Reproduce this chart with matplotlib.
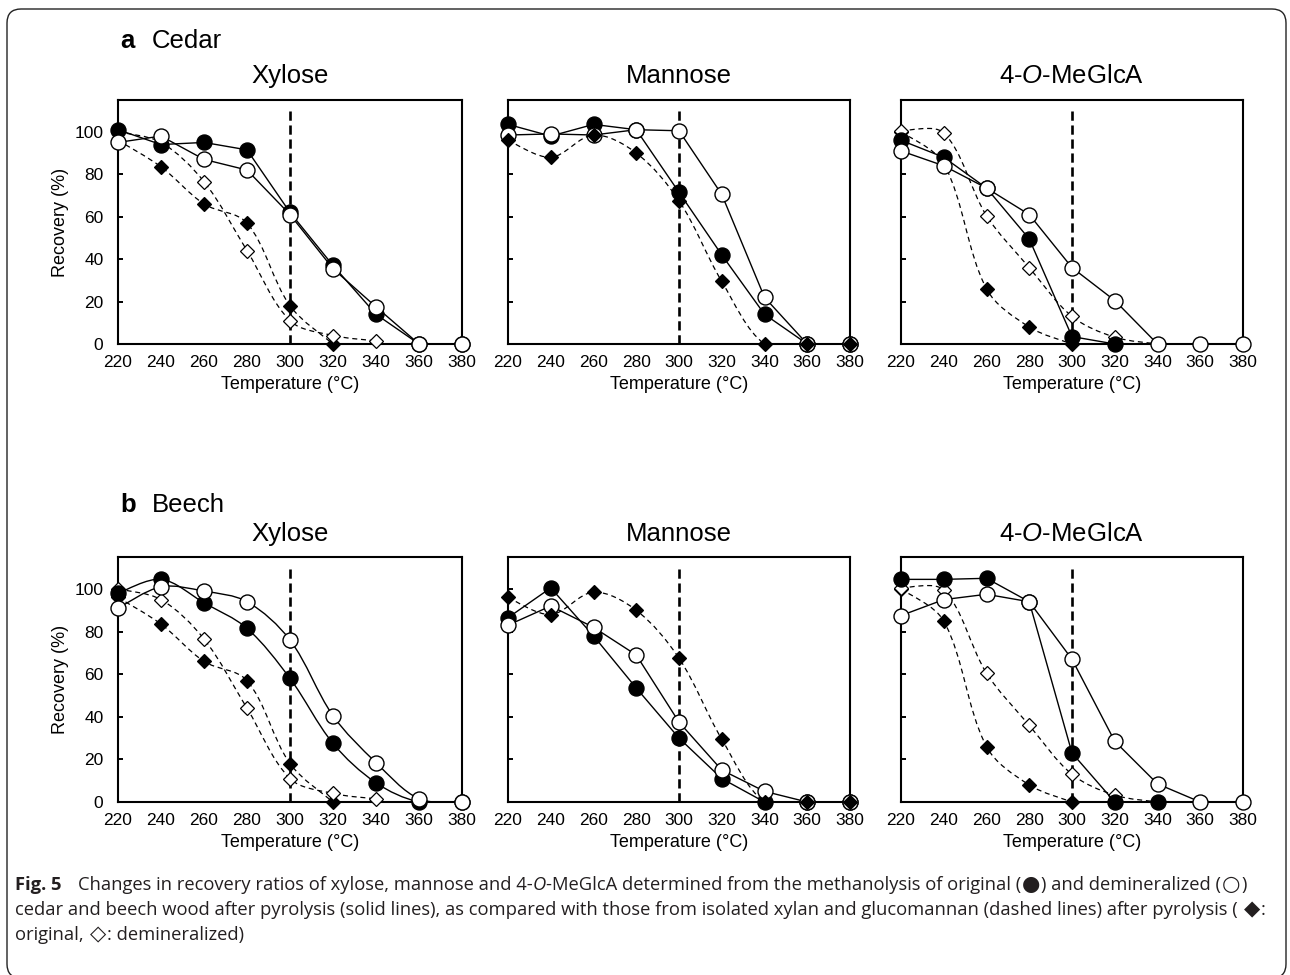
import numpy as np
import matplotlib
matplotlib.use('Agg')
import matplotlib.pyplot as plt
from matplotlib.path import Path
from matplotlib.patches import PathPatch, FancyBboxPatch
from matplotlib.transforms import IdentityTransform

plt.rcParams['font.family'] = ['Liberation Sans', 'DejaVu Sans']
plt.rcParams['mathtext.fontset'] = 'custom'
plt.rcParams['mathtext.rm'] = 'Liberation Sans'
plt.rcParams['mathtext.it'] = 'Liberation Sans:italic'

# temperatures (deg C)
temps = [220, 240, 260, 280, 300, 320, 340, 360, 380]

# cedar wood (solid lines)
cedar_xyl_orig = [101, 94, 95, 91.5, 62, 37, 14, 0, 0]
cedar_xyl_demin = [95, 98, 87, 82, 61, 35.5, 17.5, 0, 0]
cedar_man_orig = [103.5, 98, 103.5, 101, 71.5, 42, 14, 0, 0]
cedar_man_demin = [98.5, 99, 98.5, 101, 100.5, 70.5, 22, 0, 0]
cedar_mga_orig = [96, 88, 73.5, 49.5, 3.5, 0]
cedar_mga_demin = [91, 84, 73.5, 61, 36, 20.5, 0, 0, 0]

# beech wood (solid lines)
beech_xyl_orig = [98, 104.5, 93.5, 81.5, 58, 27.5, 9, 0, 0]
beech_xyl_demin = [91, 101, 99, 94, 76, 40.5, 18.5, 1.5, 0]
beech_man_orig = [86.5, 100.5, 78, 53.5, 30, 11, 0, 0, 0]
beech_man_demin = [83, 92, 82, 69, 37.5, 15, 5, 0, 0]
beech_mga_orig = [104.5, 104.5, 105, 94, 23, 0, 0]
beech_mga_demin = [87.5, 95, 97.5, 94, 67, 28.5, 8.5, 0, 0]

# isolated xylan / glucomannan (dashed lines)
xylan_xyl_orig = [96, 83.5, 66, 57, 18, 0]
xylan_xyl_demin = [100, 95, 76.5, 44, 11, 4, 1.5]
gm_man_orig = [96, 88, 98.5, 90, 67.5, 29.5, 0, 0, 0]
xylan_mga_orig = [100, 85, 26, 8, 0]
xylan_mga_demin = [100.5, 99.5, 60.5, 36, 13, 3.2, 0]

vline_x = 300
vline_top = 111
yticks = [0, 20, 40, 60, 80, 100]

titles = ['Xylose', 'Mannose', '4-$\\mathit{O}$-MeGlcA']
row_labels = [('a', 'Cedar'), ('b', 'Beech')]

W, H = 1290, 975
fig = plt.figure(figsize=(W / 100, H / 100), dpi=100)

col_px = [(118, 462), (508, 850), (901, 1243)]
row_px = [(100, 344), (557, 802)]


def smooth_path(ax, x, y):
    # spreadsheet-style smoothed line, built in pixel space
    q = ax.transData.transform(np.column_stack([x, y]).astype(float))
    n = len(q)
    cin = [None] * n
    cout = [None] * n
    cout[0] = q[0] + (q[1] - q[0]) / 6
    cin[-1] = q[-1] - (q[-1] - q[-2]) / 6
    for i in range(1, n - 1):
        t = q[i + 1] - q[i - 1]
        d0 = np.hypot(*(q[i] - q[i - 1]))
        d1 = np.hypot(*(q[i + 1] - q[i]))
        s = d0 + d1 if d0 + d1 > 0 else 1
        cout[i] = q[i] + t * d1 / s / 3
        cin[i] = q[i] - t * d0 / s / 3
    verts = [q[0]]
    codes = [Path.MOVETO]
    for i in range(n - 1):
        verts += [cout[i], cin[i + 1], q[i + 1]]
        codes += [Path.CURVE4] * 3
    verts = ax.transData.inverted().transform(np.array(verts))
    return Path(verts, codes)


def series(ax, y, kind, smooth=False, z=3):
    x = temps[:len(y)]
    dashed = kind in ('dfill', 'dopen')
    ls = (0, (4, 3)) if dashed else '-'
    lw = 0.9 if dashed else 1.0
    if smooth:
        ax.add_patch(PathPatch(smooth_path(ax, x, y), fill=False, ec='black', lw=lw, ls=ls, zorder=z))
    else:
        ax.plot(x, y, color='black', lw=lw, ls=ls, zorder=z)
    if kind in ('cfill', 'copen'):
        ax.plot(x, y, ls='none', marker='o', ms=10.8, mec='black', mew=1.0,
                mfc='black' if kind == 'cfill' else 'white', clip_on=False, zorder=z + 0.5)
    else:
        ax.plot(x, y, ls='none', marker='D', ms=7.0, mec='black', mew=0.9,
                mfc='black' if kind == 'dfill' else 'white', clip_on=False, zorder=z + 0.5)


panels = [
    [
        ([(xylan_xyl_orig, 'dfill'), (xylan_xyl_demin, 'dopen')],
         [(cedar_xyl_orig, 'cfill'), (cedar_xyl_demin, 'copen')], False, False),
        ([(gm_man_orig, 'dfill')],
         [(cedar_man_orig, 'cfill'), (cedar_man_demin, 'copen')], False, True),
        ([(xylan_mga_orig, 'dfill'), (xylan_mga_demin, 'dopen')],
         [(cedar_mga_orig, 'cfill'), (cedar_mga_demin, 'copen')], False, False),
    ],
    [
        ([(xylan_xyl_orig, 'dfill'), (xylan_xyl_demin, 'dopen')],
         [(beech_xyl_orig, 'cfill'), (beech_xyl_demin, 'copen')], True, False),
        ([(gm_man_orig, 'dfill')],
         [(beech_man_orig, 'cfill'), (beech_man_demin, 'copen')], False, True),
        ([(xylan_mga_orig, 'dfill'), (xylan_mga_demin, 'dopen')],
         [(beech_mga_orig, 'cfill'), (beech_mga_demin, 'copen')], False, False),
    ],
]

for r in range(2):
    top, bot = row_px[r]
    for c in range(3):
        left, right = col_px[c]
        ax = fig.add_axes([left / W, 1 - bot / H, (right - left) / W, (bot - top) / H])
        ax.set_xlim(220, 380)
        ax.set_ylim(0, 115)
        dashed_set, solid_set, smooth_solid, diamonds_top = panels[r][c]
        ax.plot([vline_x, vline_x], [0, vline_top], color='black', lw=1.9,
                ls=(0, (3.5, 1.8)), zorder=2)
        zd = 6 if diamonds_top else 3
        zs = 3 if diamonds_top else 4
        for y, kind in dashed_set:
            series(ax, y, kind, smooth=True, z=zd)
        for i, (y, kind) in enumerate(solid_set):
            series(ax, y, kind, smooth=smooth_solid, z=zs + i * 0.6)
        ax.set_xticks(temps)
        ax.set_yticks(yticks)
        for s in ax.spines.values():
            s.set_linewidth(1.5)
        ax.tick_params(axis='x', length=0, pad=8, labelsize=12.5)
        ax.tick_params(axis='y', direction='in', length=3.6, width=1.4, pad=10.5, labelsize=12.5)
        if c == 0:
            ax.set_ylabel('Recovery (%)', fontsize=13, labelpad=4)
        else:
            ax.set_yticklabels([])
        ax.set_xlabel('Temperature (°C)', fontsize=13, labelpad=4.5)
        ax.set_title(titles[c], fontsize=18.5, pad=12 if r == 0 else 11.5)

# panel headings
for (letter, name), yb in zip(row_labels, [48.5, 511.5]):
    fig.text(120 / W, 1 - yb / H, letter, fontsize=18.5, fontweight='bold', va='baseline')
    fig.text(152 / W, 1 - yb / H, name, fontsize=18.5, va='baseline')

# caption, drawn piece by piece (bold / italic / symbols)
cap_font = ['Open Sans', 'DejaVu Sans']
cap_size = 13.2
N, B, I, S = 'n', 'b', 'i', 's'
cap_lines = [
    [('Fig. 5', B), (16, None),
     ('Changes in recovery ratios of xylose, mannose and 4-', N), ('O', I),
     ('-MeGlcA determined from the methanolysis of original (', N), ('●', S),
     (') and demineralized (', N), ('○', S), (')', N)],
    [('cedar and beech wood after pyrolysis (solid lines), as compared with those from isolated xylan '
      'and glucomannan (dashed lines) after pyrolysis (', N), (5, None), ('◆', S), (':', N)],
    [('original,', N), (5, None), ('◇', S), (': demineralized)', N)],
]
cap_base = [890, 915, 940]
renderer = fig.canvas.get_renderer()
for pieces, yb in zip(cap_lines, cap_base):
    x = 15
    for txt, kind in pieces:
        if kind is None:
            x += txt
            continue
        kw = dict(fontsize=cap_size, family=cap_font, va='baseline', color='#231f20')
        if kind == B:
            kw['fontweight'] = 'bold'
        elif kind == I:
            kw['fontstyle'] = 'italic'
        elif kind == S:
            kw['fontsize'] = cap_size * 1.15
            kw['family'] = ['DejaVu Sans']
            x += 1
        t = fig.text(x / W, 1 - yb / H, txt, **kw)
        x = t.get_window_extent(renderer).x1 + (1 if kind == S else 0)

# outer rounded frame
box = FancyBboxPatch((7, -3), 1279, 969, boxstyle='round,pad=0,rounding_size=14',
                     transform=IdentityTransform(), fill=False, ec='#222222', lw=1.0)
fig.patches.append(box)

fig.savefig('out.png', dpi=100)
